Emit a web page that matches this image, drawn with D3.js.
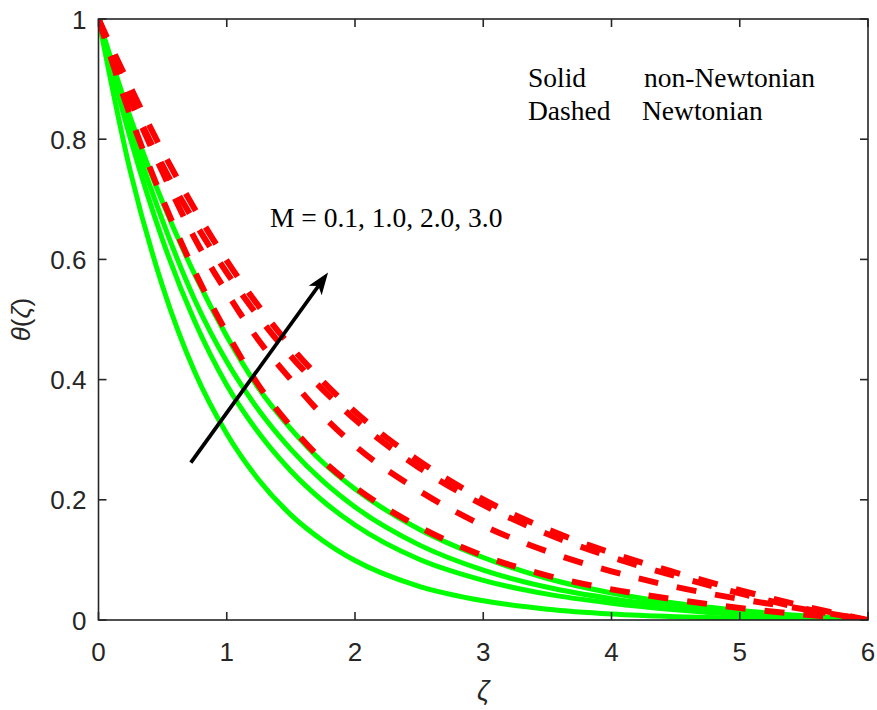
<!DOCTYPE html>
<html>
<head>
<meta charset="utf-8">
<script src="https://cdn.jsdelivr.net/npm/d3@7"></script>
<style>
  body { margin: 0; background: #fff; }
  svg { display: block; }
</style>
</head>
<body>
<svg id="chart" width="877" height="710"></svg>
<script>
// sample points along zeta
const zeta = [0, 0.25, 0.5, 0.75, 1, 1.25, 1.5, 1.75, 2, 2.5, 3, 3.5, 4, 4.5, 5, 5.5, 6];

// solid = non-Newtonian, M = 0.1, 1.0, 2.0, 3.0
const solidM01 = [1, 0.745, 0.555, 0.413, 0.31, 0.233, 0.175, 0.132, 0.099, 0.056, 0.032, 0.018, 0.01, 0.0055, 0.003, 0.0012, 0];
const solidM10 = [1, 0.80, 0.632, 0.497, 0.391, 0.311, 0.248, 0.198, 0.158, 0.101, 0.066, 0.043, 0.028, 0.017, 0.009, 0.004, 0];
const solidM20 = [1, 0.819, 0.664, 0.533, 0.43, 0.349, 0.284, 0.231, 0.188, 0.125, 0.083, 0.0545, 0.0355, 0.022, 0.012, 0.005, 0];
const solidM30 = [1, 0.835, 0.695, 0.575, 0.472, 0.385, 0.318, 0.262, 0.218, 0.151, 0.104, 0.069, 0.045, 0.028, 0.016, 0.007, 0];

// dashed = Newtonian
const dashM01 = [1, 0.838, 0.70, 0.58, 0.478, 0.39, 0.322, 0.265, 0.221, 0.155, 0.107, 0.074, 0.051, 0.034, 0.02, 0.009, 0];
const dashM10 = [1, 0.865, 0.745, 0.635, 0.545, 0.465, 0.40, 0.34, 0.29, 0.215, 0.157, 0.114, 0.081, 0.055, 0.035, 0.018, 0];
const dashM20 = [1, 0.866, 0.756, 0.662, 0.578, 0.504, 0.439, 0.383, 0.3335, 0.2535, 0.1915, 0.143, 0.1045, 0.073, 0.0445, 0.019, 0];
const dashM30 = [1, 0.886, 0.78, 0.684, 0.598, 0.522, 0.455, 0.397, 0.3465, 0.2645, 0.2005, 0.151, 0.1115, 0.079, 0.0495, 0.023, 0];

const xTicks = [0, 1, 2, 3, 4, 5, 6];
const yTicks = [0, 0.2, 0.4, 0.6, 0.8, 1];

// annotation arrow (data units)
const arrowFrom = [0.72, 0.262];
const arrowTo = [1.79, 0.578];

const width = 877, height = 710;
const margin = { top: 19, right: 9, bottom: 90, left: 98.5 };

const svg = d3.select('#chart');

const x = d3.scaleLinear().domain([0, 6]).range([margin.left, width - margin.right]);
const y = d3.scaleLinear().domain([0, 1]).range([height - margin.bottom, margin.top]);

const axisColor = '#262626';
const tickFont = '"Liberation Sans", Arial, Helvetica, sans-serif';

const plot = svg.append('g');

const line = d3.line()
    .x((d) => x(d[0]))
    .y((d) => y(d[1]))
    .curve(d3.curveMonotoneX);

const solids = [solidM01, solidM10, solidM20, solidM30];
const dashes = [dashM01, dashM10, dashM20, dashM30];

plot.append('defs').append('clipPath').attr('id', 'clip')
    .append('rect')
    .attr('x', x(0)).attr('y', y(1))
    .attr('width', x(6) - x(0)).attr('height', y(0) - y(1));

const curves = plot.append('g').attr('clip-path', 'url(#clip)');

curves.selectAll('path.solid')
    .data(solids)
    .enter()
    .append('path')
    .attr('class', 'solid')
    .attr('fill', 'none')
    .attr('stroke', '#00ff00')
    .attr('stroke-width', 5)
    .attr('d', (s) => line(zeta.map((z, i) => [z, s[i]])));

curves.selectAll('path.dash')
    .data(dashes)
    .enter()
    .append('path')
    .attr('class', 'dash')
    .attr('fill', 'none')
    .attr('stroke', '#ff0000')
    .attr('stroke-width', 6)
    .attr('stroke-dasharray', '20,19')
    .attr('d', (s) => line(zeta.map((z, i) => [z, s[i]])));

// axes, MATLAB-ish box with inward ticks
const axes = svg.append('g')
    .attr('font-family', tickFont)
    .attr('font-size', 26)
    .attr('fill', axisColor);

axes.append('rect')
    .attr('x', x(0)).attr('y', y(1))
    .attr('width', x(6) - x(0)).attr('height', y(0) - y(1))
    .attr('fill', 'none')
    .attr('stroke', axisColor)
    .attr('stroke-width', 1.6);

const tickLen = 8;

xTicks.forEach((t) => {
    axes.append('line')
        .attr('x1', x(t)).attr('x2', x(t))
        .attr('y1', y(0)).attr('y2', y(0) - tickLen)
        .attr('stroke', axisColor).attr('stroke-width', 1.6);
    axes.append('line')
        .attr('x1', x(t)).attr('x2', x(t))
        .attr('y1', y(1)).attr('y2', y(1) + tickLen)
        .attr('stroke', axisColor).attr('stroke-width', 1.6);
    axes.append('text')
        .attr('x', x(t))
        .attr('y', y(0) + 41)
        .attr('text-anchor', 'middle')
        .text(d3.format('d')(t));
});

yTicks.forEach((t) => {
    axes.append('line')
        .attr('x1', x(0)).attr('x2', x(0) + tickLen)
        .attr('y1', y(t)).attr('y2', y(t))
        .attr('stroke', axisColor).attr('stroke-width', 1.6);
    axes.append('line')
        .attr('x1', x(6)).attr('x2', x(6) - tickLen)
        .attr('y1', y(t)).attr('y2', y(t))
        .attr('stroke', axisColor).attr('stroke-width', 1.6);
    axes.append('text')
        .attr('x', x(0) - 12)
        .attr('y', y(t) + 9.5)
        .attr('text-anchor', 'end')
        .text(t === 0 || t === 1 ? String(t) : t.toFixed(1));
});

// axis labels
svg.append('text')
    .attr('x', (x(0) + x(6)) / 2)
    .attr('y', 700)
    .attr('text-anchor', 'middle')
    .attr('font-family', tickFont)
    .attr('font-size', 27)
    .attr('font-style', 'italic')
    .attr('fill', axisColor)
    .text('ζ');

const yl = svg.append('text')
    .attr('transform', `translate(30,${(y(0) + y(1)) / 2}) rotate(-90)`)
    .attr('text-anchor', 'middle')
    .attr('font-family', tickFont)
    .attr('font-size', 26)
    .attr('fill', axisColor);
yl.append('tspan').attr('font-style', 'italic').text('θ');
yl.append('tspan').text('(');
yl.append('tspan').attr('font-style', 'italic').text('ζ');
yl.append('tspan').text(')');

// arrow
const ax0 = x(arrowFrom[0]), ay0 = y(arrowFrom[1]);
const ax1 = x(arrowTo[0]), ay1 = y(arrowTo[1]);
const ang = Math.atan2(ay1 - ay0, ax1 - ax0);
const headLen = 22, headW = 8;
const bx = ax1 - headLen * 0.75 * Math.cos(ang), by = ay1 - headLen * 0.75 * Math.sin(ang);
svg.append('line')
    .attr('x1', ax0).attr('y1', ay0)
    .attr('x2', bx).attr('y2', by)
    .attr('stroke', '#000')
    .attr('stroke-width', 3.8);
const hx = ax1 - headLen * Math.cos(ang), hy = ay1 - headLen * Math.sin(ang);
const px = -Math.sin(ang), py = Math.cos(ang);
svg.append('path')
    .attr('fill', '#000')
    .attr('d', `M${ax1},${ay1} L${hx + px * headW},${hy + py * headW} L${bx},${by} L${hx - px * headW},${hy - py * headW} Z`);

// annotation texts
const serif = '"Liberation Serif", "Times New Roman", Times, serif';
const notes = svg.append('g')
    .attr('font-family', serif)
    .attr('font-size', 27.5)
    .attr('fill', '#000');
notes.append('text').attr('x', 270).attr('y', 227).text('M = 0.1, 1.0, 2.0, 3.0');
notes.append('text').attr('x', 528).attr('y', 87).text('Solid');
notes.append('text').attr('x', 644).attr('y', 87).text('non-Newtonian');
notes.append('text').attr('x', 528).attr('y', 120).text('Dashed');
notes.append('text').attr('x', 642).attr('y', 120).text('Newtonian');
</script>
</body>
</html>
